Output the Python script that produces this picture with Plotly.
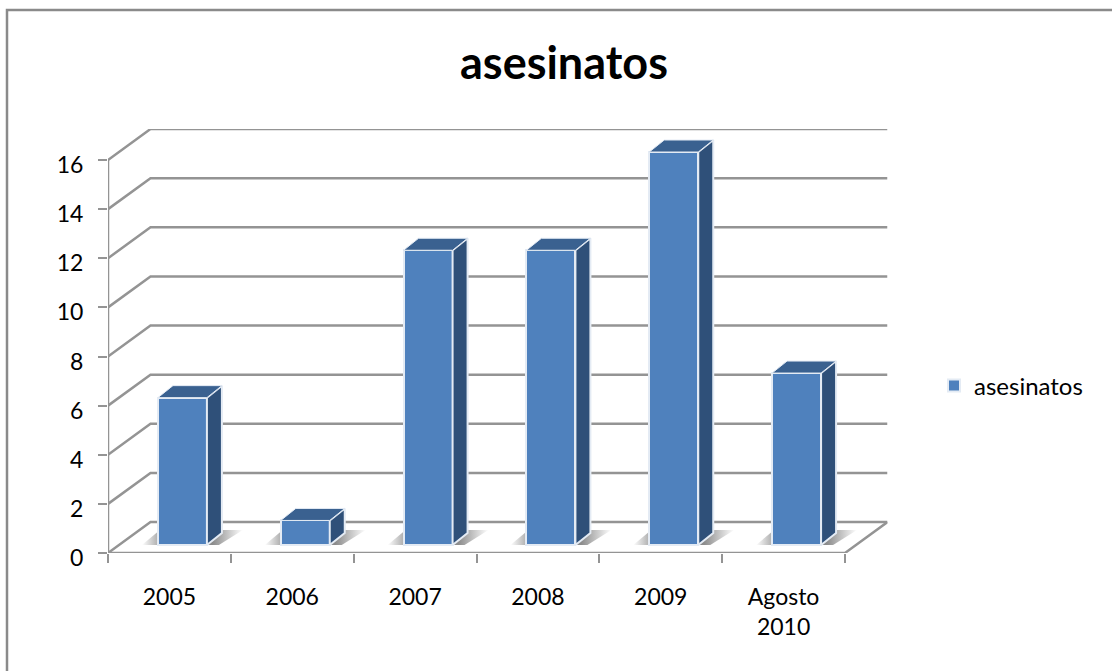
import plotly.graph_objects as go

# ---- data ----
categories = ["2005", "2006", "2007", "2008", "2009", "Agosto<br>2010"]
asesinatos = [6, 1, 12, 12, 16, 7]
y_ticks = [0, 2, 4, 6, 8, 10, 12, 14, 16]
series_name = "asesinatos"
chart_title = "asesinatos"

# ---- layout constants (pixels of the 1112x671 page) ----
W, H = 1112, 671
X0_PX, X_END_PX = 108, 845          # front floor edge
Y0_PX, Y16_PX = 553, 160            # value 0 and value 16 on the front axis
WALL_DX_PX, WALL_DY_PX = 42.5, 31   # depth of the chart box
BAR_DX_PX, BAR_DY_PX = 15, 12       # depth of a column
BAR_W_PX = 49
BAR_BASE_PX = 8                     # column sits this far up the floor
BAR_SHIFT_PX = 13                   # and this far right of the category centre

N = len(categories)
PX_PER_CAT = (X_END_PX - X0_PX) / N
PX_PER_VAL = (Y0_PX - Y16_PX) / 16
dx = lambda px: px / PX_PER_CAT
dy = lambda px: px / PX_PER_VAL

x_range = [0, dx(X_END_PX - X0_PX + WALL_DX_PX)]
y_range = [0, dy(Y0_PX - Y16_PX + WALL_DY_PX)]
x_domain = [X0_PX / W, (X_END_PX + WALL_DX_PX) / W]
y_domain = [1 - Y0_PX / H, 1 - (Y16_PX - WALL_DY_PX) / H]

GRID = "#949494"
FRONT, SIDE, TOP = "#4f81bd", "#2f5079", "#3a6190"
EDGE = "#e4ebf4"
FONT = "Lato"

fig = go.Figure()

# box: wall gridlines, wall/floor diagonals, front floor edge and value axis
wx, wy = dx(WALL_DX_PX), dy(WALL_DY_PX)
gx, gy = [], []
for v in y_ticks:
    gx += [0, wx, x_range[1], None]
    gy += [v, v + wy, v + wy, None]
gx += [0, 0, None, 0, N, x_range[1]]
gy += [0, y_ticks[-1], None, 0, 0, wy]
fig.add_trace(go.Scatter(x=gx, y=gy, mode="lines", line=dict(color=GRID, width=2.5),
                         cliponaxis=False, showlegend=False, hoverinfo="skip"))

centers = [i + 0.5 + dx(BAR_SHIFT_PX) for i in range(N)]
half = dx(BAR_W_PX) / 2
base = dy(BAR_BASE_PX)

# soft floor shadows
for c in centers:
    l, r = c - half, c + half
    sx = [l - dx(16), l + dx(2), r + dx(36), r + dx(12), l - dx(16)]
    sy = [base, base + dy(15), base + dy(15), base, base]
    fig.add_trace(go.Scatter(
        x=sx, y=sy, mode="lines", line=dict(width=0), fill="toself",
        fillgradient=dict(type="horizontal", start=l - dx(16), stop=r + dx(36),
                          colorscale=[[0, "rgba(110,110,110,0)"], [0.2, "rgba(110,110,110,0.7)"],
                                      [0.7, "rgba(110,110,110,0.8)"], [1, "rgba(110,110,110,0)"]]),
        showlegend=False, hoverinfo="skip"))

# front faces
fig.add_trace(go.Bar(x=centers, y=asesinatos, base=base, width=dx(BAR_W_PX), name=series_name,
                     marker=dict(color=FRONT, line=dict(color=EDGE, width=2)),
                     xaxis="x2", yaxis="y2", showlegend=True))

# side and top faces
ox, oy = dx(BAR_DX_PX), dy(BAR_DY_PX)
for c, v in zip(centers, asesinatos):
    l, r, t = c - half, c + half, base + v
    fig.add_trace(go.Scatter(x=[r, r + ox, r + ox, r, r], y=[base, base + oy, t + oy, t, base],
                             mode="lines", fill="toself", fillcolor=SIDE, line=dict(color=EDGE, width=2),
                             xaxis="x2", yaxis="y2", showlegend=False, hoverinfo="skip"))
    fig.add_trace(go.Scatter(x=[l, l + ox, r + ox, r, l], y=[t, t + oy, t + oy, t, t],
                             mode="lines", fill="toself", fillcolor=TOP, line=dict(color=EDGE, width=1),
                             xaxis="x2", yaxis="y2", showlegend=False, hoverinfo="skip"))

fig.update_layout(
    width=W, height=H, margin=dict(l=0, r=0, t=0, b=0, autoexpand=False),
    paper_bgcolor="white", plot_bgcolor="rgba(0,0,0,0)",
    font=dict(family=FONT, color="black", size=23),
    title=dict(text=chart_title, x=564 / W, xref="paper", xanchor="center",
               y=1 - 63 / H, yref="paper", yanchor="middle", automargin=False,
               font=dict(family=FONT, size=45, color="black", weight="bold")),
    xaxis=dict(domain=x_domain, range=x_range, showgrid=False, zeroline=False, showline=False,
               automargin=False,
               tickmode="array", tickvals=[i + 0.5 for i in range(N)], ticktext=categories,
               ticks="", ticklen=0, ticklabelstandoff=28, tickfont=dict(size=23),
               minor=dict(tickmode="array", tickvals=list(range(N + 1)), ticks="outside",
                          ticklen=9, tickwidth=2, tickcolor=GRID, showgrid=False)),
    yaxis=dict(domain=y_domain, range=y_range, showgrid=False, zeroline=False, showline=False,
               automargin=False,
               tickmode="array", tickvals=y_ticks, ticks="outside", ticklen=9, tickwidth=2,
               tickcolor=GRID, ticklabelstandoff=10, ticklabelshift=5, tickfont=dict(size=23)),
    xaxis2=dict(domain=x_domain, range=x_range, overlaying="x", visible=False, automargin=False),
    yaxis2=dict(domain=y_domain, range=y_range, overlaying="y", visible=False, automargin=False),
    legend=dict(x=934 / W, y=1 - 386 / H, xanchor="left", yanchor="middle",
                bgcolor="rgba(0,0,0,0)", font=dict(size=24), itemwidth=30),
    bargap=0,
    shapes=[dict(type="path", xref="paper", yref="paper",
                 path=f"M {7 / W} 0 L {7 / W} {1 - 10 / H} L 1 {1 - 10 / H}",
                 line=dict(color="#8a8a8a", width=2.5))],
)

fig.write_html("out.html", config={"displayModeBar": False},
               post_script="document.body.style.margin='0';document.body.style.overflow='hidden';")
